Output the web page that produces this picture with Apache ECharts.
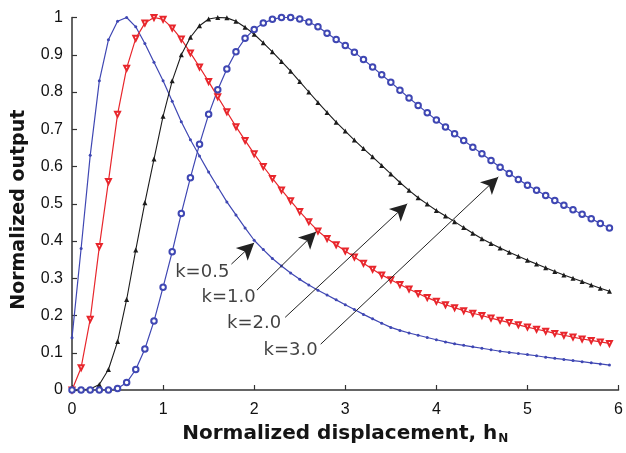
<!DOCTYPE html>
<html>
<head>
<meta charset="utf-8">
<title>Normalized output vs normalized displacement</title>
<script src="https://cdn.jsdelivr.net/npm/echarts@6/dist/echarts.min.js"></script>
<style>
  html, body { margin: 0; padding: 0; background: #ffffff; }
  #chart { width: 626px; height: 453px; }
</style>
</head>
<body>
<div id="chart"></div>
<script>
// Normalized displacement h_N at which each curve is sampled
const hN = [
  0.0, 0.1, 0.2, 0.3, 0.4, 0.5, 0.6, 0.7, 0.8, 0.9,
  1.0, 1.1, 1.2, 1.3, 1.4, 1.5, 1.6, 1.7, 1.8, 1.9,
  2.0, 2.1, 2.2, 2.3, 2.4, 2.5, 2.6, 2.7, 2.8, 2.9,
  3.0, 3.1, 3.2, 3.3, 3.4, 3.5, 3.6, 3.7, 3.8, 3.9,
  4.0, 4.1, 4.2, 4.3, 4.4, 4.5, 4.6, 4.7, 4.8, 4.9,
  5.0, 5.1, 5.2, 5.3, 5.4, 5.5, 5.6, 5.7, 5.8, 5.9
];

// Normalized output for k = 0.5
const outK05 = [
  0.14, 0.38, 0.63, 0.83, 0.94, 0.99, 1.00, 0.975, 0.93, 0.88,
  0.83, 0.775, 0.72, 0.672, 0.628, 0.585, 0.545, 0.505, 0.47, 0.435,
  0.402, 0.377, 0.353, 0.333, 0.314, 0.297, 0.282, 0.268, 0.255, 0.242,
  0.229, 0.216, 0.203, 0.191, 0.179, 0.168, 0.160, 0.153, 0.147, 0.141,
  0.135, 0.129, 0.124, 0.120, 0.116, 0.112, 0.108, 0.104, 0.101, 0.098,
  0.095, 0.092, 0.088, 0.085, 0.082, 0.079, 0.076, 0.073, 0.070, 0.067
];

// Normalized output for k = 1.0
const outK10 = [
  0.0, 0.06, 0.19, 0.385, 0.56, 0.74, 0.864, 0.944, 0.985, 1.0,
  0.995, 0.972, 0.942, 0.905, 0.867, 0.828, 0.787, 0.747, 0.707, 0.670,
  0.634, 0.600, 0.568, 0.537, 0.508, 0.479, 0.452, 0.427, 0.407, 0.390,
  0.373, 0.357, 0.340, 0.324, 0.309, 0.296, 0.283, 0.271, 0.259, 0.248,
  0.238, 0.229, 0.221, 0.213, 0.206, 0.200, 0.193, 0.187, 0.181, 0.175,
  0.169, 0.163, 0.158, 0.152, 0.147, 0.142, 0.137, 0.133, 0.129, 0.125
];

// Normalized output for k = 2.0
const outK20 = [
  0.0, 0.0, 0.003, 0.015, 0.055, 0.13, 0.243, 0.376, 0.503, 0.62,
  0.735, 0.83, 0.90, 0.947, 0.978, 0.996, 1.0, 0.999, 0.99, 0.974,
  0.955, 0.932, 0.908, 0.882, 0.856, 0.828, 0.80, 0.772, 0.745, 0.719,
  0.695, 0.671, 0.648, 0.626, 0.603, 0.580, 0.557, 0.536, 0.516, 0.499,
  0.482, 0.467, 0.452, 0.436, 0.421, 0.406, 0.393, 0.381, 0.370, 0.359,
  0.348, 0.338, 0.328, 0.318, 0.309, 0.300, 0.291, 0.282, 0.273, 0.265
];

// Normalized output for k = 3.0
const outK30 = [
  0.0, 0.0, 0.0, 0.0, 0.0, 0.004, 0.02, 0.055, 0.11, 0.185,
  0.276, 0.371, 0.474, 0.57, 0.66, 0.74, 0.806, 0.862, 0.908, 0.944,
  0.968, 0.985, 0.995, 1.0, 1.0, 0.996, 0.988, 0.975, 0.958, 0.941,
  0.925, 0.907, 0.887, 0.867, 0.846, 0.826, 0.805, 0.784, 0.764, 0.744,
  0.725, 0.706, 0.688, 0.670, 0.652, 0.634, 0.616, 0.598, 0.581, 0.565,
  0.550, 0.536, 0.522, 0.509, 0.496, 0.484, 0.472, 0.460, 0.447, 0.435
];

// Curve labels and their arrows (in data coordinates: [h_N, output])
const kLabels = ['k=0.5', 'k=1.0', 'k=2.0', 'k=3.0'];
const labelAt = [[1.43, 0.317], [1.72, 0.25], [2.0, 0.18], [2.40, 0.107]];
const arrowFrom = [[1.75, 0.338], [2.03, 0.268], [2.34, 0.195], [2.73, 0.123]];
const arrowTo = [[2.0, 0.395], [2.68, 0.425], [3.68, 0.50], [4.68, 0.572]];

const pairs = (ys) => hN.map((x, i) => [x, ys[i]]);

const BLUE = '#3f47b3';
const RED = '#e8262c';
const BLACK = '#1c1c1c';

const chart = echarts.init(document.getElementById('chart'), null, { renderer: 'canvas' });

const tickFont = { fontFamily: 'Liberation Sans, Arial, sans-serif', fontSize: 16, color: '#111' };

chart.setOption({
  animation: false,
  backgroundColor: '#ffffff',
  grid: { left: 72, right: 2, top: 17.5, bottom: 63 },
  xAxis: {
    type: 'value',
    min: 0, max: 6, interval: 1,
    name: '{t|Normalized displacement, h}{s|N}',
    nameLocation: 'middle',
    nameGap: 33,
    nameTextStyle: {
      rich: {
        t: { fontFamily: 'DejaVu Sans', fontWeight: 'bold', fontSize: 20, color: '#151515' },
        s: { fontFamily: 'DejaVu Sans', fontWeight: 'bold', fontSize: 12, color: '#151515', padding: [10, 0, 0, 1] }
      }
    },
    axisLine: { show: true, lineStyle: { color: '#333', width: 1.5 } },
    axisTick: { show: true, inside: true, length: 5, lineStyle: { color: '#333', width: 1.2 } },
    axisLabel: Object.assign({ margin: 12 }, tickFont),
    splitLine: { show: false }
  },
  yAxis: {
    type: 'value',
    min: 0, max: 1, interval: 0.1,
    name: 'Normalized output',
    nameLocation: 'middle',
    nameGap: 43,
    nameTextStyle: {
      fontFamily: 'DejaVu Sans', fontWeight: 'bold', fontSize: 19, color: '#151515',
      padding: [0, 12, 0, 0]
    },
    axisLine: { show: true, lineStyle: { color: '#333', width: 1.5 } },
    axisTick: { show: true, inside: true, length: 5, lineStyle: { color: '#333', width: 1.2 } },
    axisLabel: Object.assign({ margin: 9, formatter: (v) => String(+v.toFixed(1)) }, tickFont),
    splitLine: { show: false }
  },
  series: [
    {
      name: 'k=0.5', type: 'line', data: pairs(outK05),
      symbol: 'circle', symbolSize: 3, showSymbol: true,
      lineStyle: { color: BLUE, width: 1.2 },
      itemStyle: { color: BLUE }
    },
    {
      name: 'k=1.0', type: 'line', data: pairs(outK10),
      symbol: 'emptyTriangle', symbolRotate: 180, symbolSize: 5,
      lineStyle: { color: RED, width: 1.2 },
      itemStyle: { color: RED, borderWidth: 1.1 }
    },
    {
      name: 'k=2.0', type: 'line', data: pairs(outK20),
      symbol: 'triangle', symbolSize: 5,
      lineStyle: { color: BLACK, width: 1.1 },
      itemStyle: { color: BLACK }
    },
    {
      name: 'k=3.0', type: 'line', data: pairs(outK30),
      symbol: 'emptyCircle', symbolSize: 5.5,
      lineStyle: { color: BLUE, width: 1.2 },
      itemStyle: { color: BLUE, borderWidth: 1.1 }
    },
    {
      name: 'labels', type: 'scatter', silent: true,
      symbolSize: 0,
      data: kLabels.map((t, i) => ({ value: labelAt[i], name: t })),
      label: {
        show: true, position: 'inside', formatter: (p) => p.name,
        fontFamily: 'DejaVu Sans', fontSize: 18, color: '#111'
      },
      markLine: {
        silent: true,
        symbol: ['none', 'arrow'],
        symbolSize: [13, 17],
        label: { show: false },
        lineStyle: { color: '#222', width: 1, type: 'solid' },
        data: arrowFrom.map((a, i) => [{ coord: a }, { coord: arrowTo[i] }])
      }
    }
  ]
});
</script>
</body>
</html>
